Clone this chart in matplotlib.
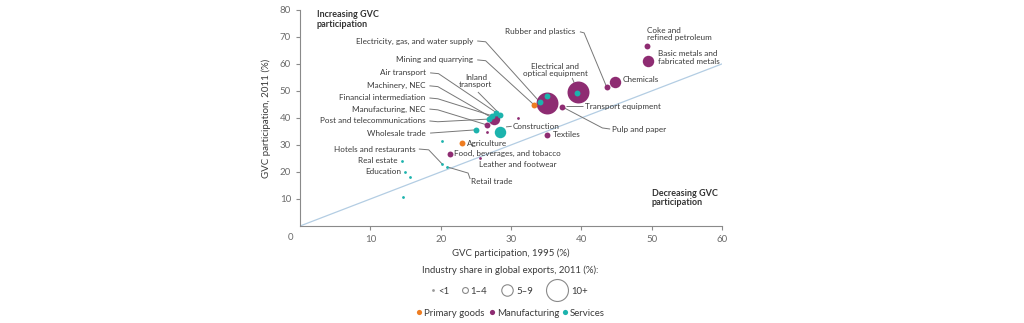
import matplotlib
matplotlib.use("Agg")
import matplotlib.pyplot as plt

plt.rcParams['font.family'] = ['Lato', 'DejaVu Sans']

# ---------------- data ----------------
names = [
    "Coke and refined petroleum", "Basic metals and fabricated metals", "Chemicals",
    "Rubber and plastics", "Electrical and optical equipment", "Transport equipment",
    "Pulp and paper", "Mining and quarrying", "Electricity, gas, and water supply",
    "Construction", "Textiles", "Agriculture", "Food, beverages, and tobacco",
    "Leather and footwear", "Retail trade", "Hotels and restaurants", "Real estate",
    "Education", "Other services A", "Other services B", "Other services C",
    "Wholesale trade", "Manufacturing, NEC", "Machinery, NEC", "Financial intermediation",
    "Air transport", "Inland transport", "Post and telecommunications",
    "Other manufacturing A", "Other manufacturing B", "Other services D", "Other services E",
]
x1995 = [49.3, 49.5, 44.8, 43.6, 39.5, 35.1, 37.3, 33.3, 34.1, 28.4, 35.1, 23.0, 21.3,
         25.6, 20.9, 20.2, 14.5, 14.9, 15.6, 14.7, 20.2, 25.0, 26.6, 27.6, 27.3,
         27.9, 28.5, 26.9, 26.6, 31.0, 35.1, 39.4]
y2011 = [66.7, 61.1, 53.3, 51.5, 49.6, 45.6, 44.1, 44.8, 45.9, 34.8, 33.7, 30.7, 26.7,
         25.2, 21.9, 23.0, 24.0, 20.0, 18.1, 10.7, 31.5, 35.6, 37.4, 39.6, 40.8,
         42.0, 41.2, 39.6, 34.8, 40.0, 48.1, 49.3]
groups = ["M", "M", "M", "M", "M", "M", "M", "P", "S", "S", "M", "P", "M",
          "M", "S", "S", "S", "S", "S", "S", "S", "S", "M", "M", "S",
          "S", "S", "S", "M", "M", "S", "S"]
share_class = ["1-4", "5-9", "5-9", "1-4", "10+", "10+", "1-4", "1-4", "1-4", "5-9", "1-4",
               "1-4", "1-4", "<1", "<1", "<1", "<1", "<1", "<1", "<1", "<1", "1-4",
               "1-4", "5-9", "1-4", "1-4", "1-4", "1-4", "<1", "<1", "1-4", "1-4"]

size_classes = ["<1", "1-4", "5-9", "10+"]
size_labels = ["<1", "1–4", "5–9", "10+"]
group_keys = ["P", "M", "S"]
group_labels = ["Primary goods", "Manufacturing", "Services"]

# ---------------- styles ----------------
colors = {"P": "#EE7D22", "M": "#8E2C72", "S": "#1CB3AD"}
marker_area = {"<1": 4, "1-4": 18, "5-9": 68, "10+": 250}
text_col = "#3a3a3a"
tick_col = "#6b6b6b"
line_col = "#777777"

fig = plt.figure(figsize=(10.24, 3.23), dpi=100)
ax = fig.add_axes([0.293, 0.3003, 0.412, 0.669])
ax.set_xlim(0, 60)
ax.set_ylim(0, 80)

ax.axline((0, 0), slope=1, color="#b3cde3", lw=0.9, zorder=1)

order = sorted(range(len(names)), key=lambda i: -marker_area[share_class[i]])
for i in order:
    ax.scatter(x1995[i], y2011[i], s=marker_area[share_class[i]], color=colors[groups[i]],
               linewidths=0, zorder=3 + size_classes[::-1].index(share_class[i]))

for sp in ["top", "right"]:
    ax.spines[sp].set_visible(False)
for sp in ["left", "bottom"]:
    ax.spines[sp].set_color("#8a8a8a")
    ax.spines[sp].set_linewidth(0.8)
ax.set_xticks(range(10, 61, 10))
ax.set_yticks(range(10, 81, 10))
ax.tick_params(colors="#8a8a8a", labelcolor=tick_col, labelsize=7, length=3, width=0.8)
ax.text(-1.4, -4.1, "0", ha="center", va="center", fontsize=7, color=tick_col, clip_on=False)
ax.set_ylabel("GVC participation, 2011 (%)", fontsize=7, color=text_col, labelpad=6)

fs = 5.9
def lab(txt, x, y, ha="left", va="center", **kw):
    ax.text(x, y, txt, ha=ha, va=va, fontsize=fs, color=text_col, zorder=10, **kw)

def leader(pts):
    ax.plot([p[0] for p in pts], [p[1] for p in pts], color=line_col, lw=0.7, zorder=2,
            solid_capstyle="butt")

def pt(name):
    i = names.index(name)
    return (x1995[i], y2011[i])

ax.text(2.4, 76.5, "Increasing GVC\nparticipation", ha="left", va="center", fontsize=6.5,
        fontweight="bold", color="#333333", linespacing=1.1)
ax.text(50.05, 10.4, "Decreasing GVC\nparticipation", ha="left", va="center", fontsize=6.5,
        fontweight="bold", color="#333333", linespacing=1.1)

left_labels = [
    ("Electricity, gas, and water supply", 24.6, 68.5),
    ("Mining and quarrying", 24.6, 61.5),
    ("Air transport", 17.9, 56.7),
    ("Machinery, NEC", 17.8, 51.9),
    ("Financial intermediation", 17.8, 47.4),
    ("Manufacturing, NEC", 17.8, 43.3),
    ("Post and telecommunications", 17.8, 38.9),
]
for name, lx, ly in left_labels:
    lab(name, lx, ly, ha="right")
    px, py = pt(name)
    leader([(lx + 0.6, ly), (lx + 1.8, ly - 0.3), (px, py)])

lab("Wholesale trade", 17.8, 34.4, ha="right")
leader([(18.5, 34.4), pt("Wholesale trade")])

lab("Inland\ntransport", 25.0, 53.7, ha="center", linespacing=1.1)
leader([(25.3, 49.6), pt("Inland transport")])

lab("Hotels and restaurants", 16.4, 28.5, ha="right")
leader([(16.9, 28.5), (18.3, 28.2), pt("Hotels and restaurants")])
lab("Real estate", 13.9, 24.4, ha="right")
lab("Education", 14.4, 20.0, ha="right")
lab("Retail trade", 24.3, 16.3)
leader([pt("Retail trade"), (23.9, 19.6), (24.2, 17.4)])
lab("Leather and footwear", 25.5, 22.6)
lab("Food, beverages, and tobacco", 21.9, 27.0)
lab("Agriculture", 23.7, 30.7)
lab("Construction", 30.3, 37.0)
leader([(29.3, 36.7), (30.1, 36.9)])
lab("Textiles", 36.0, 33.7)
lab("Electrical and\noptical equipment", 36.3, 57.8, ha="center", linespacing=1.1)
leader([(38.7, 54.8), (39.0, 53.0)])
lab("Rubber and plastics", 39.2, 71.9, ha="right")
leader([(39.8, 71.9), (40.4, 71.5), pt("Rubber and plastics")])
lab("Coke and\nrefined petroleum", 49.3, 71.1, linespacing=1.1)
lab("Basic metals and\nfabricated metals", 50.9, 62.4, linespacing=1.1)
lab("Chemicals", 45.9, 54.1)
lab("Transport equipment", 40.5, 44.4)
leader([(37.8, 44.4), (40.2, 44.4)])
lab("Pulp and paper", 44.4, 35.9)
leader([pt("Pulp and paper"), (43.0, 36.3), (44.1, 35.9)])

# axis title & legend block (legend laid out on a pixel-scaled overlay)
lax = fig.add_axes([0, 0, 1, 1], zorder=-1)
lax.set_xlim(0, 1024)
lax.set_ylim(323, 0)
lax.axis("off")
lt = 6.9
lax.text(511, 253, "GVC participation, 1995 (%)", ha="center", va="center",
         fontsize=lt, color=text_col)
lax.text(510, 270, "Industry share in global exports, 2011 (%):", ha="center",
         va="center", fontsize=lt, color=text_col)

size_marker_x = [433, 465, 507, 557]
size_text_x = [438, 470, 516, 571]
for c, lbl, mx, tx in zip(size_classes, size_labels, size_marker_x, size_text_x):
    if c == "<1":
        lax.scatter(mx, 290, s=marker_area[c], color="#9a9a9a", linewidths=0)
    else:
        lax.scatter(mx, 290, s=marker_area[c], facecolor="white",
                    edgecolor="#8a8a8a", linewidths=0.8)
    lax.text(tx, 291, lbl, ha="left", va="center", fontsize=lt, color=text_col)

group_marker_x = [419, 492, 565]
for g, lbl, mx in zip(group_keys, group_labels, group_marker_x):
    lax.scatter(mx, 312, s=14, color=colors[g], linewidths=0)
    lax.text(mx + 5, 313, lbl, ha="left", va="center", fontsize=lt, color=text_col)

fig.savefig("out.png", dpi=100)
